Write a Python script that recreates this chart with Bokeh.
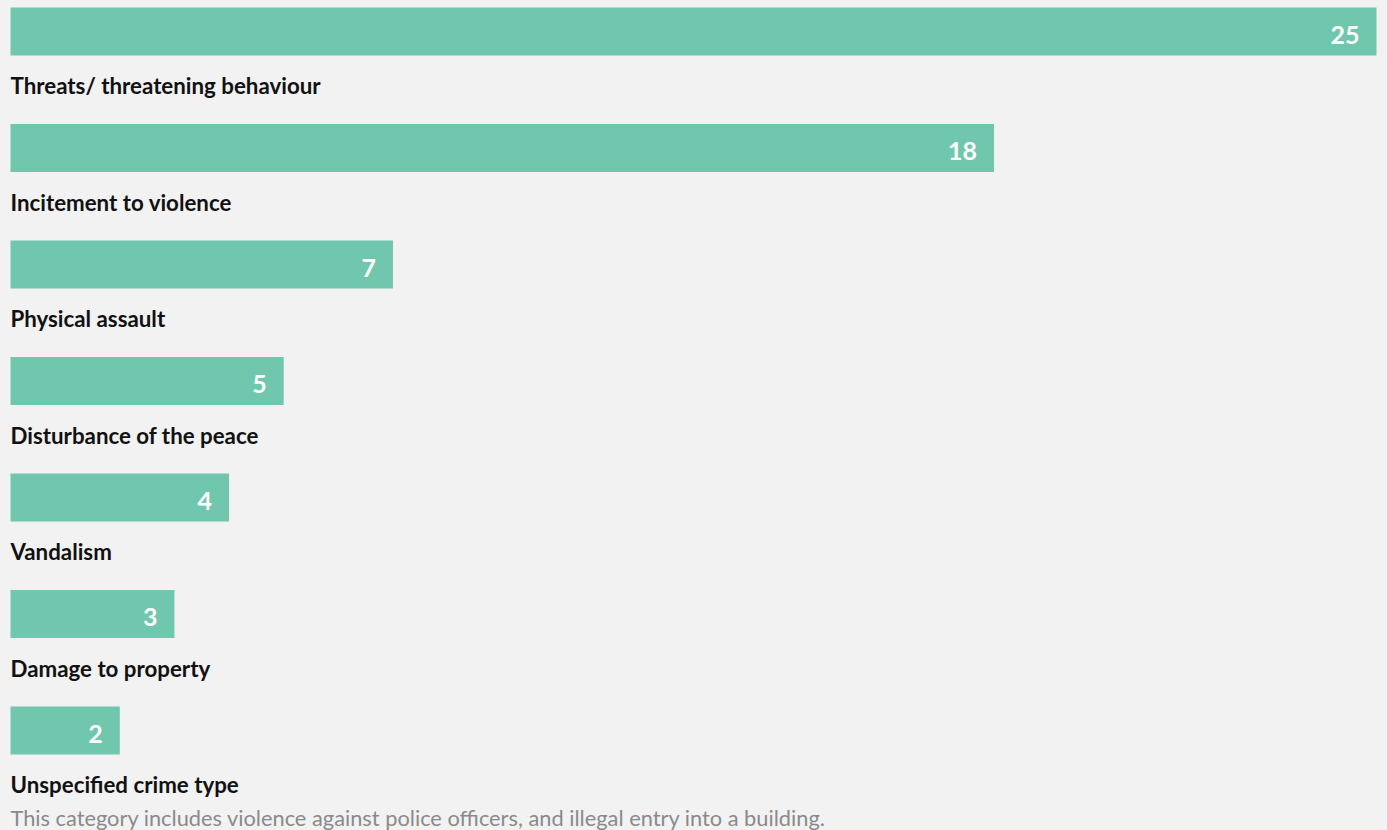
from bokeh.plotting import figure
from bokeh.models import ColumnDataSource, Range1d
from bokeh.core.properties import value
from bokeh.embed import file_html
from bokeh.resources import INLINE

categories = ["Threats/ threatening behaviour", "Incitement to violence", "Physical assault",
              "Disturbance of the peace", "Vandalism", "Damage to property", "Unspecified crime type"]
counts = [25, 18, 7, 5, 4, 3, 2]
footnote = "This category includes violence against police officers, and illegal entry into a building."

W, H = 1387, 830
BG = "#f2f2f2"
BAR = "#70c7ae"
ROW = 116.5          # pixels per row
TOP = 31             # pixel centre of first bar
LEFT = 10            # pixel start of bars
px_per_unit = 1366 / 25.0

rows = list(range(len(categories)))
src = ColumnDataSource(dict(
    row=rows, cnt=counts, cat=categories,
    lab=[str(c) for c in counts],
    laby=[r + 54 / ROW for r in rows],
))

p = figure(width=W, height=H, output_backend="svg", toolbar_location=None,
           x_range=Range1d(-LEFT / px_per_unit, (W - LEFT) / px_per_unit),
           y_range=Range1d((H - TOP) / ROW, -TOP / ROW),
           min_border=0, outline_line_color=None,
           background_fill_color=BG, border_fill_color=BG)
p.axis.visible = False
p.grid.visible = False

p.hbar(y="row", left=0, right="cnt", height=48 / ROW, source=src,
       fill_color=BAR, line_color=None)
p.text(x="cnt", y="row", text="lab", source=src, x_offset=-17, y_offset=3,
       text_align="right", text_baseline="middle", text_color="white",
       text_font=value("Lato"), text_font_style="bold", text_font_size="25px")
p.text(x=0, y="laby", text="cat", source=src, text_align="left", text_baseline="middle",
       text_color="#111111", text_font=value("Lato"), text_font_style="bold",
       text_font_size="22.3px")
p.text(x=[0], y=[rows[-1] + 87 / ROW], text=[footnote], text_align="left",
       text_baseline="middle", text_color="#8a8a8a", text_font=value("Lato"),
       text_font_size="21.8px")

html = file_html(p, INLINE)
html = html.replace("<head>", "<head><style>body{background:%s;}</style>" % BG, 1)
open("out.html", "w").write(html)
